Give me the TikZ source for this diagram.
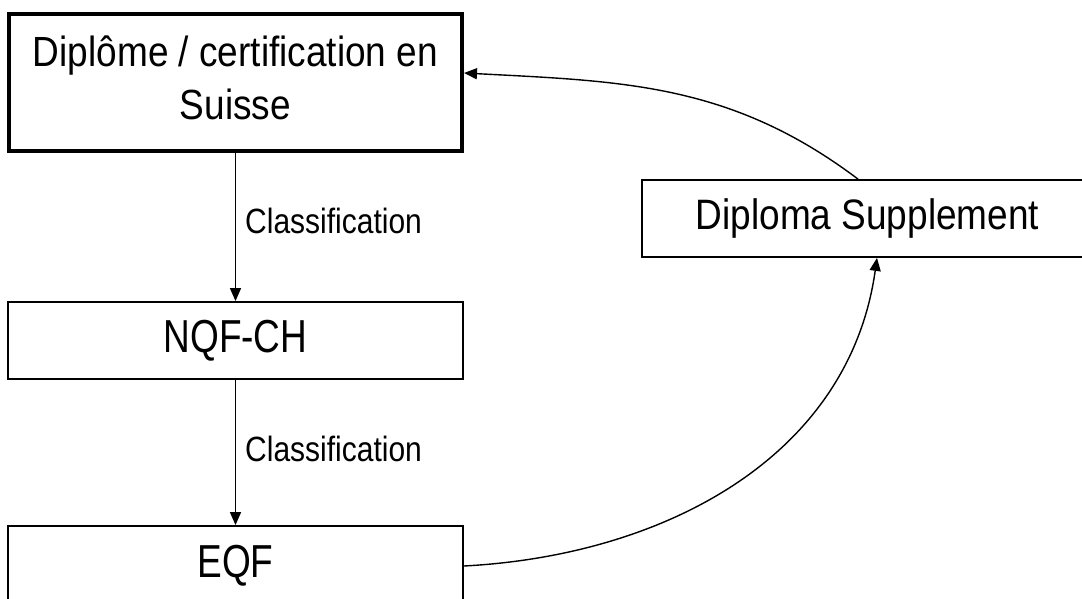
\documentclass[tikz,border=0pt]{standalone}
\usepackage{fontspec}
\usepackage{graphicx}
\setmainfont{Liberation Sans}
\usetikzlibrary{arrows.meta}
\tikzset{
  box/.style={draw=black, line width=1.8pt, fill=white, inner sep=0pt, align=center},
  thickbox/.style={box, line width=4pt},
  conn/.style={draw=black, line width=1.4pt, -{Triangle[length=13pt,width=11pt]}},
  lbl/.style={inner sep=0pt, anchor=west}
}
\newcommand\vstretch[2]{\scalebox{1}[#1]{#2}}
\begin{document}
\begin{tikzpicture}[x=1pt,y=1pt]
\useasboundingbox (0,0) rectangle (1082,-599);
\fill[white] (0,0) rectangle (1082,-599);

\node[thickbox, minimum width=453pt, minimum height=137pt] (top) at (235.5,-82.5)
  {\fontsize{37}{46}\selectfont\vstretch{1.14}{\begin{tabular}{@{}c@{}}Diplôme / certification en\\Suisse\end{tabular}}};
\node[box, minimum width=455pt, minimum height=77pt] (nqf) at (235.5,-340.5)
  {\fontsize{37}{44}\selectfont\vstretch{1.25}{NQF-CH}};
\node[box, minimum width=455pt, minimum height=80pt] (eqf) at (235.5,-566)
  {\fontsize{37}{44}\selectfont\vstretch{1.25}{EQF}};
\node[box, minimum width=451pt, minimum height=77pt] (ds) at (867.5,-218.5)
  {\fontsize{37}{44}\selectfont\vstretch{1.15}{Diploma Supplement}};

\draw[conn] (top.south) -- node[lbl, pos=0.46, xshift=9pt] {\fontsize{30}{36}\selectfont\vstretch{1.17}{Classification}} (nqf.north);
\draw[conn] (nqf.south) -- node[lbl, pos=0.476, xshift=9pt] {\fontsize{30}{36}\selectfont\vstretch{1.17}{Classification}} (eqf.north);

\draw[conn] ([xshift=-9.5pt]ds.north) to[out=143,in=-3] ([yshift=9.5pt]top.east);
\draw[conn] (eqf.east) to[out=3,in=-98] ([xshift=9.5pt]ds.south);
\end{tikzpicture}
\end{document}
